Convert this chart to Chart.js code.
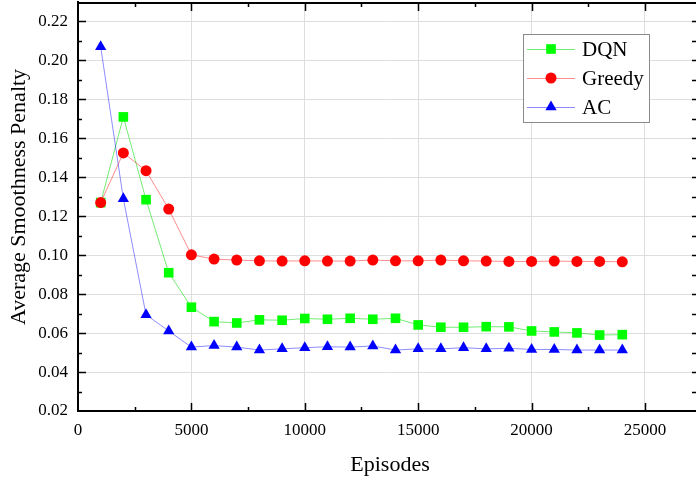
<!DOCTYPE html>
<html>
<head>
<meta charset="utf-8">
<script src="https://cdn.jsdelivr.net/npm/chart.js@4.4.1/dist/chart.umd.min.js"></script>
<style>
  html, body { margin: 0; padding: 0; background: #fff; }
  #contenedor { width: 696px; height: 483px; position: relative; }
</style>
</head>
<body>
<div id="contenedor"><canvas id="graficoPenalidad"></canvas></div>
<script>
// Datos
const episodios = [1000, 2000, 3000, 4000, 5000, 6000, 7000, 8000, 9000, 10000, 11000, 12000,
  13000, 14000, 15000, 16000, 17000, 18000, 19000, 20000, 21000, 22000, 23000, 24000];
const penalidadDQN = [0.127, 0.171, 0.1285, 0.091, 0.0733, 0.0659, 0.0652, 0.0668, 0.0666, 0.0675, 0.0671, 0.0676,
  0.0671, 0.0676, 0.0642, 0.063, 0.063, 0.0633, 0.0632, 0.0611, 0.0606, 0.0601, 0.059, 0.0592];
const penalidadGreedy = [0.127, 0.1525, 0.1434, 0.1237, 0.1002, 0.098, 0.0975, 0.0971, 0.097, 0.0971, 0.097, 0.097,
  0.0975, 0.0971, 0.0971, 0.0975, 0.0971, 0.097, 0.0968, 0.0968, 0.097, 0.0968, 0.0968, 0.0966];
const penalidadAC = [0.207, 0.129, 0.0694, 0.0611, 0.0528, 0.0536, 0.0528, 0.0513, 0.0519, 0.0525, 0.053, 0.0528,
  0.0534, 0.0513, 0.0519, 0.0519, 0.0525, 0.0519, 0.0522, 0.0516, 0.0516, 0.0513, 0.0513, 0.0513];
const ticksX = [0, 5000, 10000, 15000, 20000, 25000];
const ticksY = [0.02, 0.04, 0.06, 0.08, 0.10, 0.12, 0.14, 0.16, 0.18, 0.20, 0.22];
const nombresSeries = ["DQN", "Greedy", "AC"];

const fuenteSerif = "'Liberation Serif', 'Times New Roman', serif";
Chart.defaults.font.family = fuenteSerif;
Chart.defaults.color = "#000";

// Dibuja un marcador igual que en el grafico
function dibujarMarcador(ctx, estilo, r, x, y, color) {
  ctx.fillStyle = color;
  ctx.beginPath();
  if (estilo === "rect") {
    const s = r * Math.SQRT1_2;
    ctx.rect(x - s, y - s, 2 * s, 2 * s);
  } else if (estilo === "triangle") {
    ctx.moveTo(x, y - r);
    ctx.lineTo(x + r * 0.866, y + r / 2);
    ctx.lineTo(x - r * 0.866, y + r / 2);
    ctx.closePath();
  } else {
    ctx.arc(x, y, r, 0, Math.PI * 2);
  }
  ctx.fill();
}

// Marco con ticks hacia adentro (estilo Origin) y titulos de los ejes
const marcoOrigin = {
  id: "marcoOrigin",
  afterDraw(chart) {
    const ctx = chart.ctx;
    const area = chart.chartArea;
    const ejeX = chart.scales.x;
    const ejeY = chart.scales.y;
    ctx.save();
    ctx.strokeStyle = "#000";
    ctx.lineWidth = 2;

    // linea superior
    ctx.beginPath();
    ctx.moveTo(area.left - 1, area.top + 1);
    ctx.lineTo(area.right, area.top + 1);
    ctx.stroke();

    ctx.lineWidth = 1.5;
    ctx.beginPath();
    // ticks eje X (abajo y arriba)
    ticksX.forEach((v) => {
      [v, v + 2500].forEach((t, k) => {
        if (t <= ejeX.min || t >= ejeX.max) return;
        const px = Math.round(ejeX.getPixelForValue(t)) + 0.5;
        const largo = k === 0 ? 8 : 4;
        ctx.moveTo(px, area.bottom);
        ctx.lineTo(px, area.bottom - largo);
        ctx.moveTo(px, area.top);
        ctx.lineTo(px, area.top + largo + 1);
      });
    });
    // ticks eje Y (izquierda y derecha)
    ticksY.forEach((v) => {
      [v, v + 0.01].forEach((t, k) => {
        if (t <= ejeY.min + 1e-9 || t >= ejeY.max - 1e-9) return;
        const py = Math.round(ejeY.getPixelForValue(t)) + 0.5;
        const largo = k === 0 ? 8 : 4;
        ctx.moveTo(area.left, py);
        ctx.lineTo(area.left + largo, py);
        ctx.moveTo(area.right, py);
        ctx.lineTo(area.right - 4, py);
      });
    });
    ctx.stroke();

    // titulos de los ejes
    ctx.fillStyle = "#000";
    ctx.textAlign = "center";
    ctx.textBaseline = "middle";
    ctx.font = "22px " + fuenteSerif;
    ctx.fillText("Episodes", 390, 465);
    ctx.translate(19, 197);
    ctx.rotate(-Math.PI / 2);
    ctx.fillText("Average Smoothness Penalty", 0, 0);
    ctx.restore();
  }
};

// Leyenda con recuadro
const leyendaOrigin = {
  id: "leyendaOrigin",
  afterDraw(chart) {
    const ctx = chart.ctx;
    ctx.save();
    ctx.fillStyle = "#fff";
    ctx.fillRect(523.5, 34.5, 126, 88);
    ctx.strokeStyle = "#8a8a8a";
    ctx.lineWidth = 1;
    ctx.strokeRect(523.5, 34.5, 126, 88);
    chart.data.datasets.forEach((ds, i) => {
      const y = 49 + i * 29;
      ctx.strokeStyle = ds.borderColor;
      ctx.lineWidth = 1;
      ctx.beginPath();
      ctx.moveTo(527, y + 0.5);
      ctx.lineTo(575, y + 0.5);
      ctx.stroke();
      dibujarMarcador(ctx, ds.pointStyle, ds.pointRadius, 551, y, ds.pointBackgroundColor);
      ctx.fillStyle = "#000";
      ctx.font = "21px " + fuenteSerif;
      ctx.textAlign = "left";
      ctx.textBaseline = "middle";
      ctx.fillText(ds.label, 582, y + 1);
    });
    ctx.restore();
  }
};

function armarSerie(nombre, valores, colorLinea, colorMarcador, estilo, radio, orden) {
  return {
    label: nombre,
    data: episodios.map((e, i) => ({ x: e, y: valores[i] })),
    borderColor: colorLinea,
    borderWidth: 1,
    pointStyle: estilo,
    pointRadius: radio,
    pointBackgroundColor: colorMarcador,
    pointBorderColor: colorMarcador,
    pointBorderWidth: 0,
    order: orden
  };
}

const datos = {
  datasets: [
    armarSerie(nombresSeries[0], penalidadDQN, "rgba(0,220,0,0.55)", "#00ff00", "rect", 6.8, 3),
    armarSerie(nombresSeries[1], penalidadGreedy, "rgba(255,0,0,0.45)", "#ff0000", "circle", 5.5, 2),
    armarSerie(nombresSeries[2], penalidadAC, "rgba(0,0,255,0.45)", "#0000ff", "triangle", 6.5, 1)
  ]
};

const config = {
  type: "line",
  data: datos,
  options: {
    responsive: true,
    maintainAspectRatio: false,
    animation: false,
    layout: { autoPadding: false, padding: { top: 2, right: 0, left: 0, bottom: 0 } },
    plugins: {
      legend: { display: false },
      tooltip: { enabled: false }
    },
    scales: {
      x: {
        type: "linear",
        min: 0,
        max: 27250,
        afterBuildTicks: (eje) => { eje.ticks = ticksX.map((v) => ({ value: v })); },
        afterFit: (eje) => {
          eje.height = 72;
          eje.paddingLeft = 0;
          eje.paddingRight = 0;
        },
        ticks: { font: { size: 17 }, padding: 9, maxRotation: 0, callback: (v) => String(v) },
        grid: { color: "#dedede", lineWidth: 1, drawTicks: false },
        border: { color: "#000", width: 2 }
      },
      y: {
        min: 0.02,
        max: 0.23,
        afterBuildTicks: (eje) => { eje.ticks = ticksY.map((v) => ({ value: v })); },
        afterFit: (eje) => {
          eje.width = 78;
          eje.paddingTop = 0;
          eje.paddingBottom = 0;
        },
        ticks: { font: { size: 17 }, padding: 10, callback: (v) => v.toFixed(2) },
        grid: { color: "#dedede", lineWidth: 1, drawTicks: false },
        border: { color: "#000", width: 2 }
      }
    }
  },
  plugins: [marcoOrigin, leyendaOrigin]
};

const contexto = document.getElementById("graficoPenalidad").getContext("2d");
window.graficoPenalidad = new Chart(contexto, config);
</script>
</body>
</html>
